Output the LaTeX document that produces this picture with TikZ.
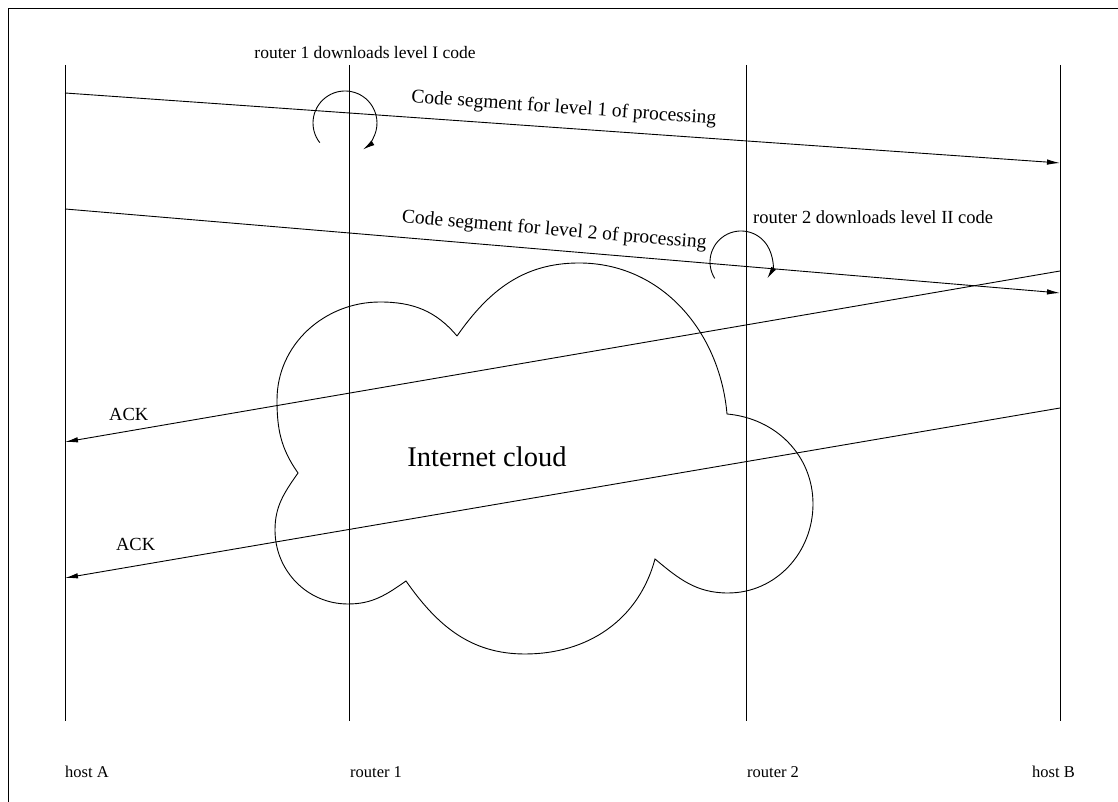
\documentclass[tikz,border=0pt]{standalone}
\usepackage{fontspec}
\setmainfont{Liberation Serif}
\usetikzlibrary{arrows.meta,positioning}

\tikzset{
  lifeline/.style={line width=0.9pt},
  msg/.style={line width=0.9pt,-{Latex[length=13pt,width=5.5pt]}},
  turn/.style={line width=0.9pt,-{Latex[length=12pt,width=5.5pt]}},
  lbl/.style={font=\fontsize{16.5}{19}\selectfont,inner sep=1pt},
  note/.style={font=\fontsize{17.5}{20}\selectfont,inner sep=1pt},
  seg/.style={font=\fontsize{19.5}{23}\selectfont,inner sep=2pt},
  ack/.style={font=\fontsize{18.5}{22}\selectfont,inner sep=2pt},
}

\begin{document}
\begin{tikzpicture}[x=1pt,y=1pt]
\useasboundingbox (0,0) rectangle (1118,802);
% frame
\draw[line width=0.9pt] (8,0) -- (8,794) -- (1118,794);

% the cloud
\coordinate (c1) at (457,466);
\coordinate (c2) at (298,329);
\coordinate (c3) at (406,221);
\coordinate (c4) at (655,243);
\coordinate (c5) at (727,388);
\draw[line width=0.9pt] (c1) to[out=55,in=180] (579,539) to[out=0,in=95] (c5)
  to[out=-5,in=90] (813,298) to[out=-90,in=0] (728,209) to[out=180,in=-40] (c4)
  to[out=-105,in=0] (525,148) to[out=180,in=-55] (c3)
  to[out=-145,in=0] (348,198) to[out=180,in=-90] (275,272) to[out=90,in=-125] (c2)
  to[out=125,in=-90] (277,402) to[out=90,in=180] (380,500) to[out=0,in=130] (c1);
\node[font=\fontsize{28.5}{34}\selectfont] (cloud) at (487,345) {Internet cloud};

% lifelines
\foreach \n/\x in {hA/65,rA/349,rB/746,hB/1060}{
  \coordinate (\n top) at (\x,737);
  \coordinate (\n bot) at (\x,81);
  \draw[lifeline] (\n top) -- (\n bot);
}
\node[lbl,anchor=base west] (hAlbl) at (64,24) {host A};
\node[lbl,anchor=base west] (rAlbl) at (349,24) {router 1};
\node[lbl,anchor=base west] (rBlbl) at (746,24) {router 2};
\node[lbl,anchor=base west] (hBlbl) at (1031,24) {host B};

% code segments from host A to host B
\coordinate (a1) at (65,709);
\coordinate (b1) at (1060,639);
\coordinate (a2) at (65,593);
\coordinate (b2) at (1060,509);
\draw[msg] (a1) -- node[seg,pos=0.5,above=8pt,sloped] {Code segment for level 1 of processing} (b1);
\draw[msg] (a2) -- node[seg,pos=0.49,above=8pt,sloped] {Code segment for level 2 of processing} (b2);

% acknowledgements back to host A
\coordinate (b3) at (1060,531);
\coordinate (a3) at (65,360);
\coordinate (b4) at (1060,394);
\coordinate (a4) at (65,224);
\draw[msg] (b3) -- node[ack,pos=0.936,above=8pt] {ACK} (a3);
\draw[msg] (b4) -- node[ack,pos=0.929,above=13pt] {ACK} (a4);

% routers fetching their code
\coordinate (rAturn) at (345,679);
\coordinate (rBturn) at (741,540);
\draw[turn] (rAturn) ++(218:32) arc[start angle=218,end angle=-56,radius=32];
\draw[turn] (rBturn) ++(212:31) arc[start angle=212,end angle=-32,radius=31];
\node[note,anchor=base] (rAnote) at (365,743) {router 1 downloads level I code};
\node[note,anchor=base west,font=\fontsize{18.5}{21}\selectfont] (rBnote) at (752,578) {router 2 downloads level II code};
\end{tikzpicture}
\end{document}
